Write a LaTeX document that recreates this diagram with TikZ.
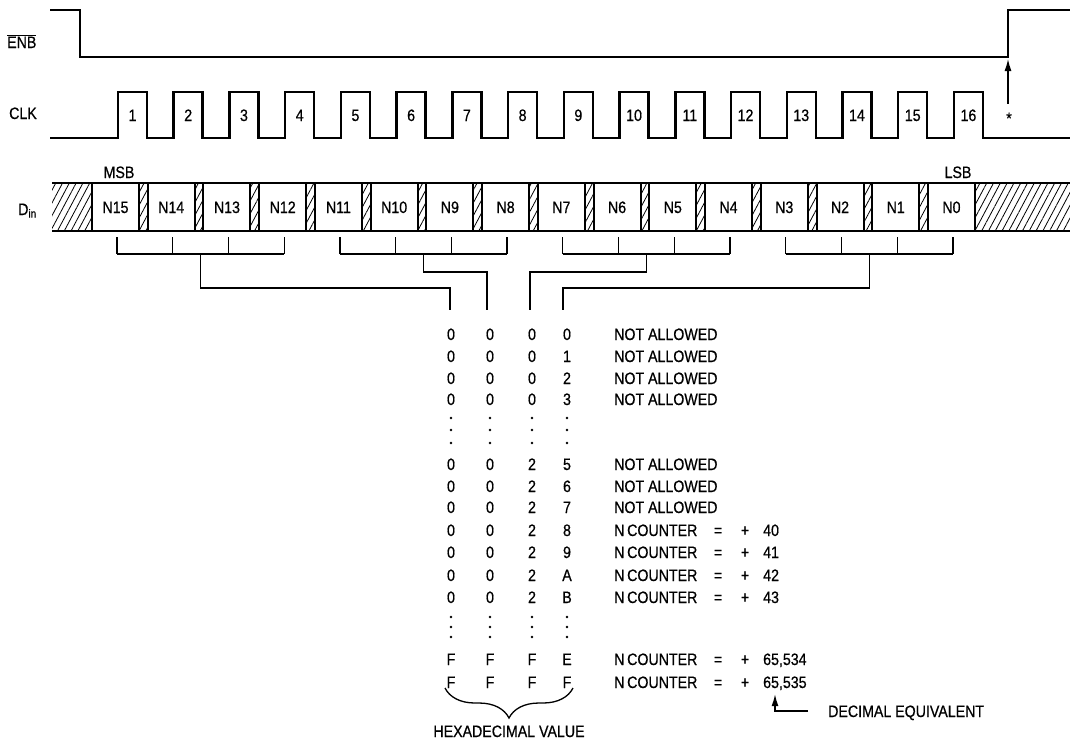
\documentclass[tikz,border=0pt]{standalone}
\usepackage{fontspec}
\setmainfont{Liberation Sans}[FakeStretch=0.86, FakeBold=0.6]
\usetikzlibrary{arrows.meta,patterns.meta,decorations.pathreplacing,calc}

\begin{document}
\begin{tikzpicture}[x=1pt, y=-1pt,
    wave/.style={black, line width=2.5pt}, % Style for the waveforms
    bus/.style={black, line width=2pt}, % Style for the data bus
    link/.style={black, line width=1.3pt}, % Style for the bracket lines
    hatch/.style={pattern={Lines[angle=62,distance=6pt,line width=0.8pt]}},
    txt/.style={inner sep=0pt, text height=12pt, text depth=0pt, font=\fontsize{16.5}{19}\selectfont},
    bitbox/.style={txt, draw, bus, minimum width=47pt, minimum height=48pt}
]
\useasboundingbox (0,0) rectangle (1070,748);

% Signal names
\node[txt, anchor=west] (enb) at (7,42) {$\overline{\mbox{ENB}}$};
\node[txt, anchor=west] (clk) at (9,113) {CLK};
\node[txt, anchor=west] (din) at (18,209) {D\textsubscript{in}};

% ENB and CLK waveforms
\draw[wave] (50,10) -- (80,10) -- (80,57) -- (1008,57) -- (1008,10) -- (1070,10);
\coordinate (rise) at (1008,59);
\draw[wave] (50,138) \foreach \k in {0,...,15} { -- ({118+\k*55.73},138) -- ++(0,-46) -- ++(29,0) -- ++(0,46) } -- (1070,138);
\foreach \k in {1,...,16}
    \node[txt] (c\k) at ({132.5+(\k-1)*55.73},115) {\k};

\node[txt] (star) at (1009,118) {*};
\draw[link, -{Latex[length=12pt,width=7pt]}] ([yshift=8pt]star.north -| rise) -- (rise);

% Data bus with the sixteen bits
\fill[hatch] (52,183) rectangle (92,231);
\fill[hatch] (975,183) rectangle (1070,231);
\foreach \k in {0,...,14}
    \fill[hatch] ({139+\k*55.73},183) rectangle ++(8.73,48);
\draw[bus] (52,183) -- (1070,183);
\draw[bus] (52,231) -- (1070,231);
\foreach \k in {0,...,15} {
    \pgfmathtruncatemacro{\n}{15-\k}
    \node[bitbox] (b\n) at ({115.5+\k*55.73},207) {N\n};
}
\node[txt] (msb) at (119,172) {MSB};
\node[txt] (lsb) at (958,172) {LSB};

% Brackets grouping four bits into one hex digit
\foreach \n in {0,...,15} {
    \coordinate (t\n) at ([xshift=1.5pt,yshift=-22pt]b\n.south);
    \draw[link] (t\n) -- ++(0,-17);
}
\draw[link] (t15) -- (t12);
\draw[link] (t11) -- (t8);
\draw[link] (t7) -- (t4);
\draw[link] (t3) -- (t0);
\coordinate (m1) at ($(t14)!.5!(t13)$);
\coordinate (m2) at ($(t10)!.5!(t9)$);
\coordinate (m3) at ($(t6)!.5!(t5)$);
\coordinate (m4) at ($(t2)!.5!(t1)$);
\coordinate (col1) at (450,310);
\coordinate (col2) at (487,310);
\coordinate (col3) at (530,310);
\coordinate (col4) at (563,310);
\draw[link] (m1) -- ++(0,34) -| (col1);
\draw[link] (m2) -- ++(0,18) -| (col2);
\draw[link] (m3) -- ++(0,18) -| (col3);
\draw[link] (m4) -- ++(0,34) -| (col4);

% Table of hex values
\foreach \y/\a/\b/\c/\d in {334/0/0/0/0, 356/0/0/0/1, 378/0/0/0/2, 399/0/0/0/3,
        464/0/0/2/5, 486/0/0/2/6, 507/0/0/2/7, 530/0/0/2/8, 552/0/0/2/9,
        575/0/0/2/A, 597/0/0/2/B, 659/F/F/F/E, 682/F/F/F/F} {
    \node[txt] (d\y-1) at (451,\y) {\a};
    \node[txt] (d\y-2) at (490,\y) {\b};
    \node[txt] (d\y-3) at (532,\y) {\c};
    \node[txt] (d\y-4) at (567,\y) {\d};
}
\foreach \x in {451,490,532,567} {
    \foreach \y in {418,430,443,617,627,637}
        \fill (\x,\y) circle (1.3pt);
}
\foreach \y in {334,356,378,399,464,486,507}
    \node[txt, anchor=west] (na\y) at (614,\y) {NOT ALLOWED};
\foreach \y/\v in {530/40, 552/41, 575/42, 597/43, 659/{65,534}, 682/{65,535}} {
    \node[txt, anchor=west] (nc\y) at (614,\y) {N\,COUNTER};
    \node[txt] (eq\y) at (718,\y) {=};
    \node[txt] (pl\y) at (745,\y) {+};
    \node[txt, anchor=west] (v\y) at (763,\y) {\v};
}

% Brace and notes
\draw[link, decorate, decoration={brace, amplitude=30pt}] (573,688) -- (445,688);
\node[txt] (hex) at (509,731) {HEXADECIMAL VALUE};
\node[txt, anchor=west] (dec) at (828,711) {DECIMAL EQUIVALENT};
\draw[link, -{Latex[length=12pt,width=7pt]}] ([xshift=-20pt]dec.west) -| ([xshift=12pt,yshift=-6pt]v682.south west);

\end{tikzpicture}
\end{document}
